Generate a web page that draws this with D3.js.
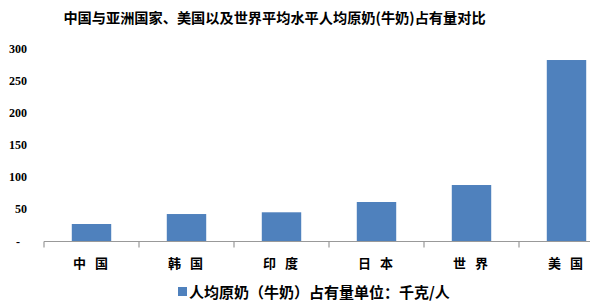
<!DOCTYPE html>
<html>
<head>
<meta charset="utf-8">
<script src="https://cdn.jsdelivr.net/npm/d3@7"></script>
<style>
  body { margin: 0; background: #fff; }
  svg { display: block; }
  .cjk { font-family: "Noto Sans CJK SC", sans-serif; font-weight: bold; }
  .num { font-family: "Liberation Serif", serif; font-weight: bold; font-size: 12px; }
</style>
</head>
<body>
<div id="chart"></div>
<script>
// Data_____________________________________________________
const categories = ['中 国', '韩 国', '印 度', '日 本', '世 界', '美 国'];
const values = [27.2, 42.7, 45.4, 61.4, 87.8, 282.1];
const yTicks = [0, 50, 100, 150, 200, 250, 300];
const titleText = '中国与亚洲国家、美国以及世界平均水平人均原奶(牛奶)占有量对比';
const legendText = '人均原奶（牛奶）占有量单位：千克/人';

// Setup_____________________________________________________
const width = 598;
const height = 308;
const barColor = '#4F81BD';

const svg = d3.select('#chart')
    .append('svg')
    .attr('width', width)
    .attr('height', height);

// the last band runs past the right edge, like the original
const x = d3.scaleBand().domain(categories).range([44, 614]);
const y = d3.scaleLinear().domain([0, 300]).range([241.5, 48.5]);
const barW = x.bandwidth() * 0.415;

// Title
svg.append('text')
    .attr('class', 'cjk')
    .attr('x', 274.5)
    .attr('y', 23)
    .attr('text-anchor', 'middle')
    .style('font-size', '14.2px')
    .text(titleText);

// Y labels (no axis line)
svg.selectAll('.ylab')
    .data(yTicks)
    .enter()
    .append('text')
    .attr('class', 'num ylab')
    .attr('x', d => d === 0 ? 20 : 27)
    .attr('y', d => y(d) + 4)
    .attr('text-anchor', 'end')
    .text(d => d === 0 ? '-' : d);

// Bars
svg.selectAll('.bar')
    .data(values)
    .enter()
    .append('rect')
    .attr('class', 'bar')
    .attr('x', (d, i) => x(categories[i]) + (x.bandwidth() - barW) / 2)
    .attr('y', d => y(d))
    .attr('width', barW)
    .attr('height', d => y(0) - y(d))
    .attr('fill', barColor);

// X axis
const xAxis = svg.append('g')
    .attr('transform', `translate(0, ${y(0)})`);

xAxis.append('line')
    .attr('x1', 44).attr('x2', 590)
    .attr('y1', 0).attr('y2', 0)
    .attr('stroke', '#999').attr('stroke-width', 1.2);

const tickPos = categories.map(c => x(c));
xAxis.selectAll('.tick')
    .data(tickPos)
    .enter()
    .append('line')
    .attr('x1', d => d).attr('x2', d => d)
    .attr('y1', 0).attr('y2', 6)
    .attr('stroke', '#999').attr('stroke-width', 1.2);

svg.selectAll('.xlab')
    .data(categories)
    .enter()
    .append('text')
    .attr('class', 'cjk xlab')
    .attr('x', d => x(d) + x.bandwidth() / 2 - 1)
    .attr('y', 268)
    .attr('text-anchor', 'middle')
    .style('font-size', '13px')
    .style('white-space', 'pre')
    .text(d => d.replace(' ', '   '));

// Legend
svg.append('rect')
    .attr('x', 178)
    .attr('y', 287)
    .attr('width', 9)
    .attr('height', 9)
    .attr('fill', barColor);

svg.append('text')
    .attr('class', 'cjk')
    .attr('x', 189)
    .attr('y', 297.5)
    .style('font-size', '15px')
    .text(legendText);
</script>
</body>
</html>
